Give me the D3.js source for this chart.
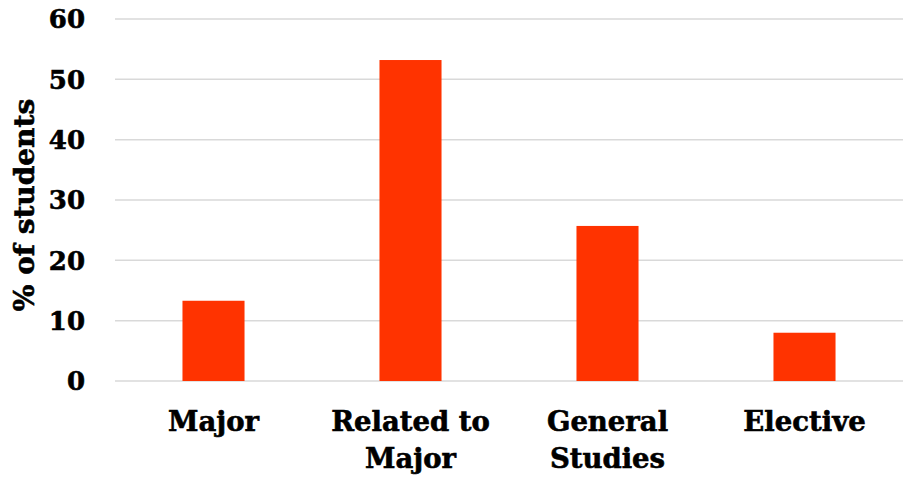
<!DOCTYPE html>
<html>
<head>
<meta charset="utf-8">
<script src="https://cdn.jsdelivr.net/npm/d3@7"></script>
<style>
  html, body { margin: 0; padding: 0; background: #fff; }
  svg text { font-family: "DejaVu Serif", serif; font-weight: bold; fill: #000; stroke: #000; stroke-width: 0.6px; }
</style>
</head>
<body>
<svg id="chart" width="909" height="478"></svg>
<script>
// Where students' courses fall relative to their major
const categories = [["Major"], ["Related to", "Major"], ["General", "Studies"], ["Elective"]];
const percents = [13.3, 53.2, 25.7, 8.0];
const yTicks = [0, 10, 20, 30, 40, 50, 60];

const svg = d3.select("#chart");
const plotLeft = 115, plotRight = 903, plotTop = 19, plotBottom = 381;

const x = d3.scaleBand()
  .domain(categories.map((d, i) => i))
  .range([plotLeft, plotRight])
  .paddingInner(0.685)
  .paddingOuter(0.3425);

const y = d3.scaleLinear().domain([0, 60]).range([plotBottom, plotTop]);

// horizontal gridlines
svg.append("g")
  .selectAll("line")
  .data(yTicks)
  .join("line")
  .attr("x1", plotLeft).attr("x2", plotRight)
  .attr("y1", d => y(d)).attr("y2", d => y(d))
  .attr("stroke", "#d9d9d9").attr("stroke-width", 1.5);

// y tick labels
svg.append("g")
  .selectAll("text")
  .data(yTicks)
  .join("text")
  .attr("x", 85)
  .attr("y", d => y(d))
  .attr("dy", "0.36em")
  .attr("text-anchor", "end")
  .attr("font-size", 26)
  .text(d => d);

// bars
svg.append("g")
  .selectAll("rect")
  .data(percents)
  .join("rect")
  .attr("x", (d, i) => x(i))
  .attr("width", x.bandwidth())
  .attr("y", d => y(d))
  .attr("height", d => y(0) - y(d))
  .attr("fill", "#ff3300");

// category labels
const cat = svg.append("g")
  .selectAll("text")
  .data(categories)
  .join("text")
  .attr("text-anchor", "middle")
  .attr("font-size", 27.5)
  .attr("transform", (d, i) => `translate(${x(i) + x.bandwidth() / 2},431)`);
cat.selectAll("tspan")
  .data(d => d)
  .join("tspan")
  .attr("x", 0)
  .attr("y", (d, j) => j * 37)
  .text(d => d);

// y axis title
svg.append("text")
  .attr("transform", `translate(34,205) rotate(-90)`)
  .attr("text-anchor", "middle")
  .attr("font-size", 28)
  .text("% of students");
</script>
</body>
</html>
